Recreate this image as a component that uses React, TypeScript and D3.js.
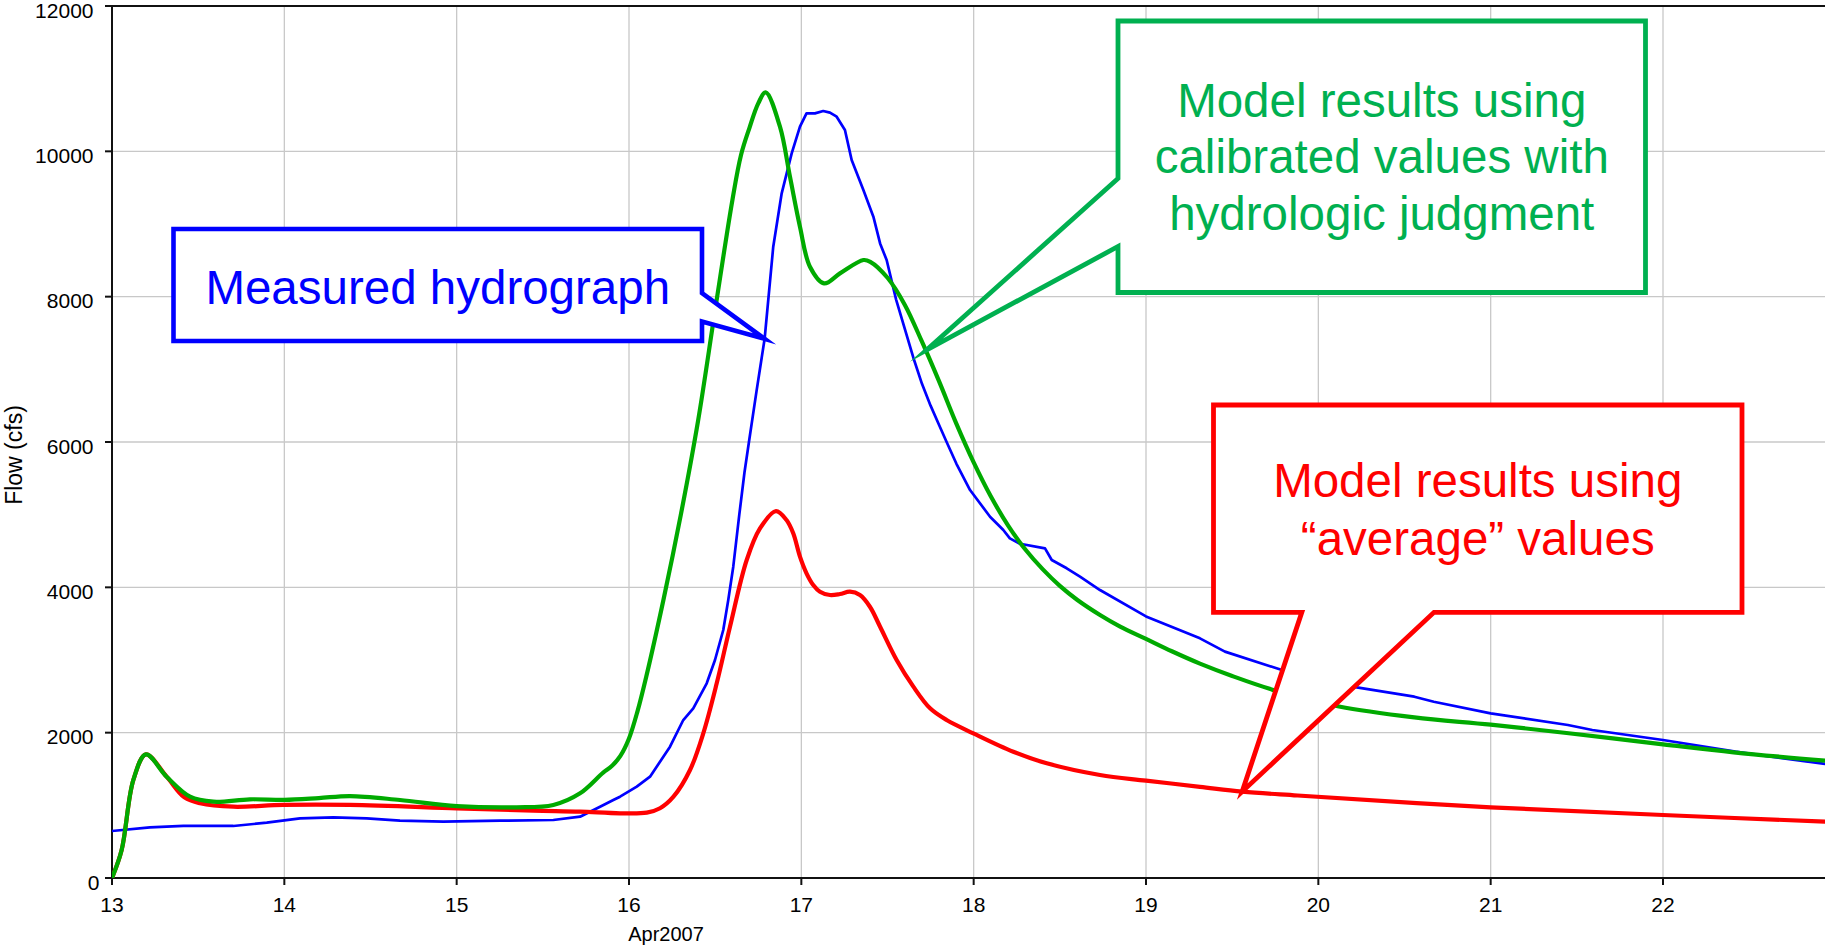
import React from 'react';
import * as d3 from 'd3';

// ---------------- data ----------------
const xTicks = [13, 14, 15, 16, 17, 18, 19, 20, 21, 22];
const yTicks = [0, 2000, 4000, 6000, 8000, 10000, 12000];

// Measured hydrograph (blue)
const measDays = [13.0, 13.22, 13.414, 13.704, 13.898, 14.091, 14.284, 14.478, 14.671, 14.923, 15.252, 15.561, 15.716, 15.832, 15.909, 15.948, 16.045, 16.122, 16.238, 16.315, 16.373, 16.451, 16.499, 16.547, 16.576, 16.605, 16.64, 16.67, 16.696, 16.74, 16.787, 16.837, 16.886, 16.944, 16.992, 17.03, 17.079, 17.127, 17.166, 17.205, 17.253, 17.292, 17.36, 17.418, 17.457, 17.495, 17.55, 17.6, 17.65, 17.7, 17.75, 17.8, 17.843, 17.9, 17.979, 18.095, 18.172, 18.21, 18.269, 18.414, 18.453, 18.54, 18.617, 18.733, 19.0, 19.313, 19.458, 19.789, 20.223, 20.557, 20.67, 21.0, 21.448, 21.59, 22.0, 22.42, 22.94];
const measFlow = [647, 697, 716, 716, 761, 821, 835, 821, 789, 775, 789, 798, 844, 981, 1073, 1119, 1257, 1394, 1807, 2174, 2335, 2679, 3000, 3413, 3825, 4284, 5000, 5580, 6000, 6700, 7420, 8687, 9422, 9972, 10339, 10522, 10522, 10555, 10532, 10477, 10293, 9881, 9468, 9101, 8733, 8504, 7960, 7560, 7160, 6800, 6500, 6230, 6000, 5700, 5339, 4972, 4789, 4674, 4600, 4537, 4376, 4262, 4147, 3963, 3600, 3298, 3115, 2862, 2624, 2495, 2426, 2266, 2105, 2037, 1899, 1738, 1569];

// Model results using "average" values (red)
const avgDays = [13.0, 13.056, 13.124, 13.197, 13.317, 13.42, 13.511, 13.704, 13.994, 14.381, 15.0, 15.445, 15.716, 15.948, 16.103, 16.18, 16.258, 16.354, 16.431, 16.509, 16.586, 16.683, 16.76, 16.853, 16.914, 16.953, 16.992, 17.03, 17.069, 17.108, 17.166, 17.224, 17.282, 17.34, 17.398, 17.457, 17.553, 17.65, 17.747, 17.843, 17.998, 18.23, 18.424, 18.733, 19.0, 19.313, 19.558, 19.88, 21.0, 22.0, 22.94];
const avgFlow = [0, 385, 1349, 1702, 1394, 1110, 1028, 981, 1005, 1005, 959, 927, 913, 890, 899, 960, 1119, 1486, 1991, 2679, 3458, 4376, 4811, 5050, 4926, 4743, 4422, 4193, 4032, 3940, 3894, 3908, 3940, 3894, 3733, 3458, 3000, 2633, 2335, 2174, 1991, 1738, 1578, 1417, 1340, 1255, 1188, 1135, 973, 867, 775];

// Model results using calibrated values (green)
const calDays = [13.0, 13.056, 13.124, 13.197, 13.317, 13.453, 13.588, 13.8, 14.0, 14.2, 14.381, 14.671, 15.0, 15.348, 15.561, 15.716, 15.85, 15.9, 15.95, 16.0, 16.05, 16.1, 16.2, 16.3, 16.4, 16.5, 16.6, 16.65, 16.7, 16.75, 16.793, 16.876, 16.934, 16.992, 17.05, 17.132, 17.224, 17.36, 17.4, 17.5, 17.6, 17.7, 17.8, 17.9, 18.0, 18.1, 18.2, 18.3, 18.4, 18.5, 18.6, 18.733, 18.85, 19.0, 19.15, 19.313, 19.5, 19.75, 20.12, 20.557, 21.0, 21.44, 22.0, 22.41, 22.94];
const calFlow = [0, 385, 1349, 1702, 1394, 1119, 1050, 1083, 1075, 1100, 1128, 1073, 990, 973, 1005, 1165, 1450, 1540, 1680, 1920, 2300, 2770, 3830, 4990, 6280, 7820, 9330, 9950, 10330, 10660, 10812, 10339, 9651, 8963, 8412, 8183, 8320, 8504, 8480, 8260, 7890, 7380, 6830, 6250, 5720, 5250, 4850, 4520, 4250, 4020, 3830, 3620, 3460, 3290, 3120, 2950, 2780, 2580, 2360, 2210, 2110, 1995, 1840, 1730, 1614];

const blueLines = ['Measured hydrograph'];
const greenLines = ['Model results using', 'calibrated values with', 'hydrologic judgment'];
const redLines = ['Model results using', '\u201Caverage\u201D values'];

// ---------------- layout ----------------
const W = 1825;
const H = 952;
const PL = 112, PT = 6, PR = 1825, PB = 878;
const FONT = "Arial, 'Liberation Sans', Helvetica, sans-serif";

const x = d3.scaleLinear().domain([13, 22.94]).range([PL, PR]);
const y = d3.scaleLinear().domain([0, 12000]).range([PB, PT]);

const zip = (ds: number[], vs: number[]) => ds.map((d, i) => [d, vs[i]] as [number, number]);

const smooth = d3.line<[number, number]>().x(d => x(d[0])).y(d => y(d[1])).curve(d3.curveCatmullRom.alpha(0.5));
const linear = d3.line<[number, number]>().x(d => x(d[0])).y(d => y(d[1])).curve(d3.curveLinear);

export default function App() {
  // callout shapes: boxes in pixels, tips anchored to data
  const blueTip = [x(16.787), y(7420)];
  const blueBox = { l: 173.5, t: 229, r: 702, b: 341, n1: 293, n2: 321.5 };
  const bluePath = `M${blueBox.l},${blueBox.t}H${blueBox.r}V${blueBox.n1}L${blueTip[0]},${blueTip[1]}L${blueBox.r},${blueBox.n2}V${blueBox.b}H${blueBox.l}Z`;

  const greenTip = [x(17.727), y(7266)];
  const greenBox = { l: 1118, t: 21, r: 1645.5, b: 292.5, n1: 178.5, n2: 246.5 };
  const greenPath = `M${greenBox.l},${greenBox.t}H${greenBox.r}V${greenBox.b}H${greenBox.l}V${greenBox.n2}L${greenTip[0]},${greenTip[1]}L${greenBox.l},${greenBox.n1}Z`;

  const redTip = [x(19.558), y(1188)];
  const redBox = { l: 1213.5, t: 405, r: 1742, b: 612.3, n1: 1301.8, n2: 1434 };
  const redPath = `M${redBox.l},${redBox.t}H${redBox.r}V${redBox.b}H${redBox.n2}L${redTip[0]},${redTip[1]}L${redBox.n1},${redBox.b}H${redBox.l}Z`;

  return (
    <svg width={W} height={H} style={{ position: 'absolute', left: 0, top: 0, background: '#fff' }} fontFamily={FONT}>
      <defs>
        <clipPath id="plot">
          <rect x={PL} y={PT} width={PR - PL} height={PB - PT} />
        </clipPath>
      </defs>
      <rect x={0} y={0} width={W} height={H} fill="#fff" />
      {/* grid */}
      {xTicks.filter(t => t !== 13).map(t => (
        <line key={'gx' + t} x1={x(t)} x2={x(t)} y1={PT} y2={PB} stroke="#c8c8c8" strokeWidth={1.3} />
      ))}
      {yTicks.filter(t => t !== 0 && t !== 12000).map(t => (
        <line key={'gy' + t} x1={PL} x2={PR} y1={y(t)} y2={y(t)} stroke="#c8c8c8" strokeWidth={1.3} />
      ))}
      {/* axes */}
      <line x1={PL} x2={PR} y1={PT} y2={PT} stroke="#111" strokeWidth={1.8} />
      <line x1={PL} x2={PL} y1={PT} y2={PB} stroke="#111" strokeWidth={2} />
      <line x1={PL} x2={PR} y1={PB} y2={PB} stroke="#111" strokeWidth={2} />
      {yTicks.map(t => (
        <line key={'ty' + t} x1={PL - 7} x2={PL} y1={y(t)} y2={y(t)} stroke="#111" strokeWidth={2} />
      ))}
      {xTicks.map(t => (
        <line key={'tx' + t} x1={x(t)} x2={x(t)} y1={PB} y2={PB + 7} stroke="#111" strokeWidth={2} />
      ))}
      {yTicks.map(t => (
        <text key={'ly' + t} x={t === 0 ? 99.5 : 93.5} y={t === 0 ? y(t) + 12 : y(t) + 11.5} textAnchor="end" fontSize={21} fill="#000">{t}</text>
      ))}
      {xTicks.map(t => (
        <text key={'lx' + t} x={x(t)} y={911.7} textAnchor="middle" fontSize={21} fill="#000">{t}</text>
      ))}
      <text x={666} y={941} textAnchor="middle" fontSize={20} fill="#000">Apr2007</text>
      <text transform="translate(21.5,455) rotate(-90)" textAnchor="middle" fontSize={23} fill="#000">Flow (cfs)</text>

      {/* series */}
      <g clipPath="url(#plot)" fill="none" strokeLinejoin="round" strokeLinecap="round">
        <path d={linear(zip(measDays, measFlow)) || ''} stroke="#0000ff" strokeWidth={2.7} />
        <path d={smooth(zip(avgDays, avgFlow)) || ''} stroke="#ff0000" strokeWidth={4.2} />
        <path d={smooth(zip(calDays, calFlow)) || ''} stroke="#00aa00" strokeWidth={4.2} />
      </g>

      {/* callouts */}
      <path d={bluePath} fill="#fff" stroke="#0000ff" strokeWidth={4.6} strokeLinejoin="miter" strokeMiterlimit={20} />
      {blueLines.map((s, i) => (
        <text key={'bt' + i} x={(blueBox.l + blueBox.r) / 2} y={303.5 + i * 56.7} textAnchor="middle" fontSize={47.5} fill="#0000ff">{s}</text>
      ))}
      <path d={greenPath} fill="#fff" stroke="#00b050" strokeWidth={4.8} strokeLinejoin="miter" strokeMiterlimit={20} />
      {greenLines.map((s, i) => (
        <text key={'gt' + i} x={(greenBox.l + greenBox.r) / 2} y={116.7 + i * 56.7} textAnchor="middle" fontSize={47.5} fill="#00b050">{s}</text>
      ))}
      <path d={redPath} fill="#fff" stroke="#ff0000" strokeWidth={4.8} strokeLinejoin="miter" strokeMiterlimit={20} />
      {redLines.map((s, i) => (
        <text key={'rt' + i} x={(redBox.l + redBox.r) / 2} y={497.3 + i * 57.7} textAnchor="middle" fontSize={47.5} fill="#ff0000">{s}</text>
      ))}
    </svg>
  );
}
